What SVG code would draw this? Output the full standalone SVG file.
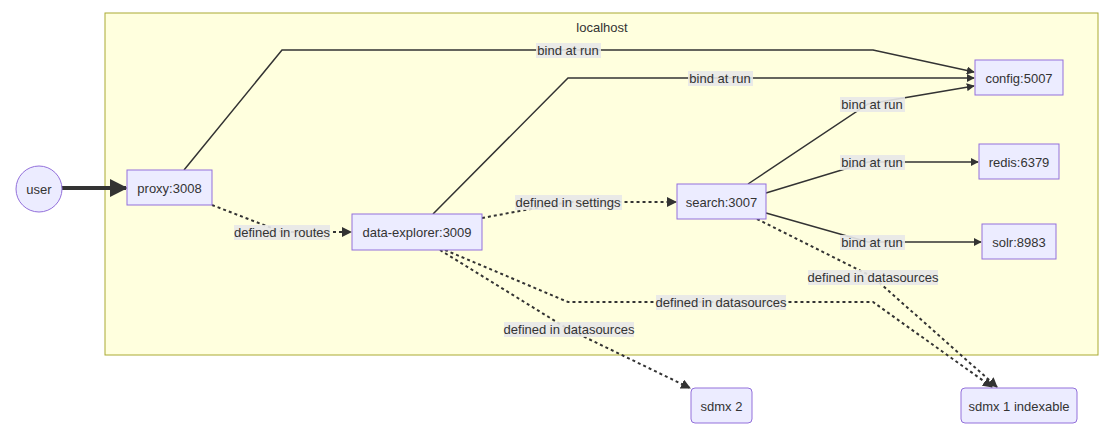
<svg xmlns="http://www.w3.org/2000/svg" width="1117" height="435" viewBox="0 0 1117 435">
<style>
.cl{fill:#ffffde;stroke:#aaaa33;stroke-width:1}
.n{fill:#ececff;stroke:#9370db;stroke-width:1}
.t{font-family:"Liberation Sans",Arial,sans-serif;font-size:13px;fill:#333;text-anchor:middle;dominant-baseline:central}
.e{fill:none;stroke:#333;stroke-width:1.5}
.d{fill:none;stroke:#333;stroke-width:2;stroke-dasharray:3 3}
.lb{fill:#e8e8e8;opacity:0.9}
</style>
<defs>
<marker id="a" viewBox="0 0 10 10" refX="9" refY="5" markerWidth="8" markerHeight="8" markerUnits="userSpaceOnUse" orient="auto"><path d="M0,0L10,5L0,10z" fill="#333"/></marker>
<marker id="ad" viewBox="0 0 10 10" refX="9" refY="5" markerWidth="10" markerHeight="10" markerUnits="userSpaceOnUse" orient="auto"><path d="M0,0L10,5L0,10z" fill="#333"/></marker>
<marker id="ab" viewBox="0 0 10 10" refX="9" refY="5" markerWidth="18" markerHeight="18" markerUnits="userSpaceOnUse" orient="auto"><path d="M0,0L10,5L0,10z" fill="#333"/></marker>
</defs>
<g id="cluster-localhost">
<rect class="cl" x="105" y="13" width="993" height="342"/>
<text class="t" x="602" y="27">localhost</text>
</g>
<g id="connectors">
<line x1="61" y1="188" x2="126" y2="188" stroke="#333" stroke-width="4" marker-end="url(#ab)"/>
<polyline class="e" points="184,170 282,50 873,50 974,72" marker-end="url(#a)"/>
<polyline class="e" points="433,214 568,78 974,78" marker-end="url(#a)"/>
<polyline class="e" points="748,184 868,104 974,86" marker-end="url(#a)"/>
<polyline class="e" points="766,193 868,162 978,162" marker-end="url(#a)"/>
<polyline class="e" points="766,213 868,242 981,242" marker-end="url(#a)"/>
<polyline class="d" points="212,205 282,232 351,232" marker-end="url(#ad)"/>
<polyline class="d" points="482,218 568,202 676,202" marker-end="url(#ad)"/>
<polyline class="d" points="757,219 873,277 997,387" marker-end="url(#ad)"/>
<polyline class="d" points="445,250 568,302 873,302 992,387" marker-end="url(#ad)"/>
<polyline class="d" points="440,250 568,329 690,388" marker-end="url(#ad)"/>
<rect class="lb" x="536" y="43" width="65" height="15"/><text class="t" x="568" y="50">bind at run</text>
<rect class="lb" x="688" y="71" width="65" height="15"/><text class="t" x="720" y="78">bind at run</text>
<rect class="lb" x="840" y="97" width="65" height="15"/><text class="t" x="872" y="104">bind at run</text>
<rect class="lb" x="840" y="155" width="65" height="15"/><text class="t" x="872" y="162">bind at run</text>
<rect class="lb" x="840" y="235" width="65" height="15"/><text class="t" x="872" y="242">bind at run</text>
<rect class="lb" x="234" y="225" width="96" height="15"/><text class="t" x="282" y="232">defined in routes</text>
<rect class="lb" x="515" y="195" width="107" height="15"/><text class="t" x="568" y="202">defined in settings</text>
<rect class="lb" x="808" y="270" width="130" height="15"/><text class="t" x="873" y="277">defined in datasources</text>
<rect class="lb" x="656" y="295" width="130" height="15"/><text class="t" x="721" y="302">defined in datasources</text>
<rect class="lb" x="504" y="322" width="130" height="15"/><text class="t" x="569" y="329">defined in datasources</text>
</g>
<g id="user"><circle class="n" cx="39" cy="189" r="23"/><text class="t" x="39" y="189">user</text></g>
<g id="proxy"><rect class="n" x="127" y="170" width="85" height="35"/><text class="t" x="169.5" y="188">proxy:3008</text></g>
<g id="data-explorer"><rect class="n" x="352" y="214" width="130" height="36"/><text class="t" x="417" y="232">data-explorer:3009</text></g>
<g id="search"><rect class="n" x="677" y="184" width="89" height="35"/><text class="t" x="721.5" y="202">search:3007</text></g>
<g id="config"><rect class="n" x="975" y="60" width="88" height="35"/><text class="t" x="1019" y="78">config:5007</text></g>
<g id="redis"><rect class="n" x="979" y="144" width="80" height="35"/><text class="t" x="1019" y="162">redis:6379</text></g>
<g id="solr"><rect class="n" x="982" y="224" width="74" height="35"/><text class="t" x="1019" y="242">solr:8983</text></g>
<g id="sdmx2"><rect class="n" x="691" y="388" width="61" height="35" rx="4"/><text class="t" x="721.5" y="406">sdmx 2</text></g>
<g id="sdmx1"><rect class="n" x="961" y="388" width="116" height="35" rx="4"/><text class="t" x="1019" y="406">sdmx 1 indexable</text></g>
</svg>
